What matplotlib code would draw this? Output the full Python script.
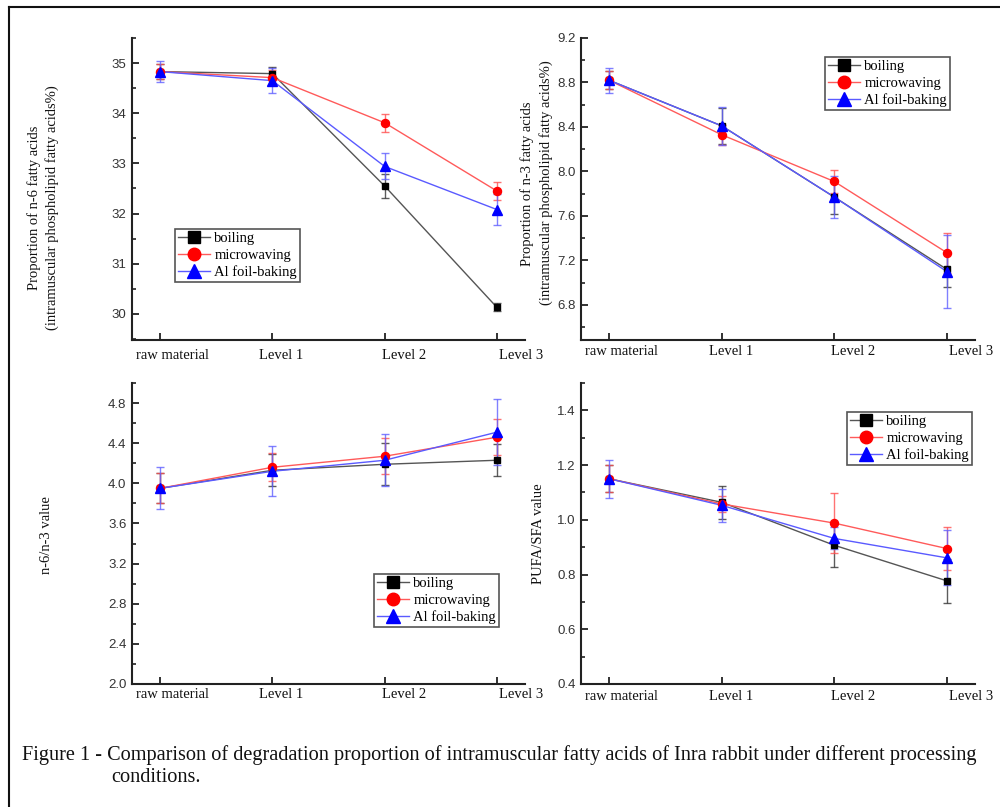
import matplotlib
matplotlib.use("Agg")
import numpy as np
import matplotlib.pyplot as plt
from matplotlib.ticker import MultipleLocator, FixedLocator, NullFormatter
from matplotlib.lines import Line2D
from matplotlib.transforms import ScaledTranslation, blended_transform_factory

categories = ["raw material", "Level 1", "Level 2", "Level 3"]
series_names = ["boiling", "microwaving", "Al foil-baking"]

# n-6 proportion
n6_boil = [34.83, 34.79, 32.55, 30.13]
n6_boil_err = [0.15, 0.13, 0.23, 0.08]
n6_micro = [34.83, 34.71, 33.81, 32.45]
n6_micro_err = [0.15, 0.15, 0.18, 0.18]
n6_foil = [34.83, 34.65, 32.94, 32.08]
n6_foil_err = [0.21, 0.25, 0.26, 0.31]

# n-3 proportion
n3_boil = [8.82, 8.41, 7.77, 7.12]
n3_boil_err = [0.08, 0.16, 0.15, 0.16]
n3_micro = [8.82, 8.33, 7.91, 7.27]
n3_micro_err = [0.08, 0.09, 0.10, 0.18]
n3_foil = [8.82, 8.41, 7.77, 7.10]
n3_foil_err = [0.11, 0.17, 0.19, 0.33]

# n-6/n-3
r_boil = [3.95, 4.13, 4.19, 4.23]
r_boil_err = [0.15, 0.16, 0.21, 0.16]
r_micro = [3.95, 4.16, 4.27, 4.46]
r_micro_err = [0.15, 0.14, 0.18, 0.18]
r_foil = [3.95, 4.12, 4.23, 4.51]
r_foil_err = [0.21, 0.25, 0.26, 0.33]

# PUFA/SFA
p_boil = [1.15, 1.064, 0.907, 0.777]
p_boil_err = [0.05, 0.06, 0.08, 0.08]
p_micro = [1.15, 1.058, 0.988, 0.895]
p_micro_err = [0.05, 0.03, 0.11, 0.08]
p_foil = [1.15, 1.053, 0.932, 0.861]
p_foil_err = [0.07, 0.06, 0.04, 0.10]

SERIF = ["Liberation Serif", "DejaVu Serif"]
SANS = ["Liberation Sans", "DejaVu Sans"]

fig = plt.figure(figsize=(10, 8.07), dpi=100)
W, H = 1000, 807

def ax_rect(l, r, t, b):
    return [l / W, 1 - b / H, (r - l) / W, (b - t) / H]

styles = [
    dict(line="#555555", mk="#000000", ecol="#333333", marker="s", ms=4.8, lms=8.0),
    dict(line="#ff5a5a", mk="#ff0000", ecol="#ff5050", marker="o", ms=5.8, lms=9.0),
    dict(line="#5a5aff", mk="#0000ff", ecol="#6060ff", marker="^", ms=6.8, lms=10.0),
]

panels = [
    dict(rect=ax_rect(132, 525, 38, 340), ylim=(29.48, 35.5), major=1, minor=0.5,
         fmt="{:.0f}", data=[(n6_boil, n6_boil_err), (n6_micro, n6_micro_err), (n6_foil, n6_foil_err)],
         leg=(175, 229), lab_dy=16),
    dict(rect=ax_rect(581, 975, 38, 340), ylim=(6.485, 9.2), major=0.4, minor=0.2,
         fmt="{:.1f}", data=[(n3_boil, n3_boil_err), (n3_micro, n3_micro_err), (n3_foil, n3_foil_err)],
         leg=(825, 57), lab_dy=12),
    dict(rect=ax_rect(132, 525, 383, 684), ylim=(2.0, 5.0), major=0.4, minor=0.2,
         fmt="{:.1f}", data=[(r_boil, r_boil_err), (r_micro, r_micro_err), (r_foil, r_foil_err)],
         leg=(374, 574), lab_dy=11),
    dict(rect=ax_rect(581, 975, 383, 684), ylim=(0.4, 1.5), major=0.2, minor=0.1,
         fmt="{:.1f}", data=[(p_boil, p_boil_err), (p_micro, p_micro_err), (p_foil, p_foil_err)],
         leg=(847, 412), lab_dy=12),
]

label_shift_px = [12, 9, 19, 24]

x = list(range(len(categories)))

for p in panels:
    ax = fig.add_axes(p["rect"])
    for (vals, errs), st in zip(p["data"], styles):
        ax.errorbar(x, vals, yerr=errs, fmt="none", ecolor=st["ecol"], elinewidth=1.0,
                    capsize=3.2, capthick=1.0, alpha=0.8, zorder=2)
        ax.plot(x, vals, color=st["line"], lw=1.0, zorder=3)
        ax.plot(x, vals, linestyle="none", marker=st["marker"], ms=st["ms"],
                color=st["mk"], markeredgecolor=st["mk"], zorder=4)
    ax.set_xlim(-0.25, 3.25)
    ax.set_ylim(*p["ylim"])
    for s in ["top", "right"]:
        ax.spines[s].set_visible(False)
    for s in ["left", "bottom"]:
        ax.spines[s].set_linewidth(1.5)
        ax.spines[s].set_color("#222222")
    ax.xaxis.set_major_locator(FixedLocator(x))
    ax.xaxis.set_major_formatter(NullFormatter())
    trans = blended_transform_factory(ax.transData, ax.transAxes)
    for xi, cat, dx in zip(x, categories, label_shift_px):
        ax.text(xi, 0, cat, ha="center", va="center", family=SERIF, fontsize=10.5, color="#111111",
                transform=trans + ScaledTranslation(dx / 100, -p["lab_dy"] / 100, fig.dpi_scale_trans),
                clip_on=False)
    lo, hi = p["ylim"]
    ticks = [t for t in np.arange(np.ceil(lo / p["major"] - 1e-9) * p["major"], hi + 1e-9, p["major"])]
    ax.yaxis.set_major_locator(FixedLocator(ticks))
    ax.yaxis.set_minor_locator(MultipleLocator(p["minor"]))
    ax.set_yticklabels([p["fmt"].format(t) for t in ticks], family=SANS, fontsize=9.5, color="#333333")
    ax.tick_params(axis="both", which="major", direction="in", length=5, width=1.3, color="#222222")
    ax.tick_params(axis="y", which="minor", direction="in", length=3, width=1.2, color="#222222")
    ax.tick_params(axis="y", which="major", pad=4)
    ax.patch.set_visible(False)

    # legend
    l, t = p["leg"]
    handles = [Line2D([0], [0], color=st["line"], lw=1.0, marker=st["marker"],
                      ms=st["lms"], markerfacecolor=st["mk"], markeredgecolor=st["mk"])
               for st in styles]
    lg = fig.legend(handles, series_names, loc="upper left",
                    bbox_to_anchor=(l / W, 1 - t / H), bbox_transform=fig.transFigure,
                    prop=dict(family=SERIF, size=10.5), frameon=True, fancybox=False,
                    edgecolor="#555555", framealpha=1, borderpad=0.2, labelspacing=0.25,
                    handlelength=2.2, handletextpad=0.3, borderaxespad=0.0)
    lg.get_frame().set_linewidth(1.2)

# y labels
fig.text(34 / W, 1 - 208 / H, "Proportion of n-6 fatty acids", rotation=90, ha="center", va="center",
         family=SERIF, fontsize=10.5, color="#111111")
fig.text(52 / W, 1 - 208 / H, "(intramuscular phospholipid fatty acids%)", rotation=90, ha="center",
         va="center", family=SERIF, fontsize=10.5, color="#111111")
fig.text(527 / W, 1 - 184 / H, "Proportion of n-3 fatty acids", rotation=90, ha="center", va="center",
         family=SERIF, fontsize=10.5, color="#111111")
fig.text(546 / W, 1 - 183 / H, "(intramuscular phospholipid fatty acids%)", rotation=90, ha="center",
         va="center", family=SERIF, fontsize=10.5, color="#111111")
fig.text(46 / W, 1 - 535 / H, "n-6/n-3 value", rotation=90, ha="center", va="center",
         family=SERIF, fontsize=10.5, color="#111111")
fig.text(539 / W, 1 - 534 / H, "PUFA/SFA value", rotation=90, ha="center", va="center",
         family=SERIF, fontsize=10.5, color="#111111")

# caption
fig.text(22 / W, 1 - 755 / H,
         "Figure 1 - Comparison of degradation proportion of intramuscular fatty acids of Inra rabbit under different processing",
         ha="left", va="center", family=SERIF, fontsize=14.6, color="#111111")
fig.text(111 / W, 1 - 777 / H, "conditions.", ha="left", va="center", family=SERIF,
         fontsize=14.6, color="#111111")

# outer frame (clipped on right / bottom)
fig.add_artist(Line2D([9 / W, 1.0], [1 - 7 / H, 1 - 7 / H], transform=fig.transFigure,
                      color="#111111", lw=1.5))
fig.add_artist(Line2D([9 / W, 9 / W], [1 - 7 / H, 0.0], transform=fig.transFigure,
                      color="#111111", lw=1.5))

fig.savefig("out.png", dpi=100, facecolor="white")
